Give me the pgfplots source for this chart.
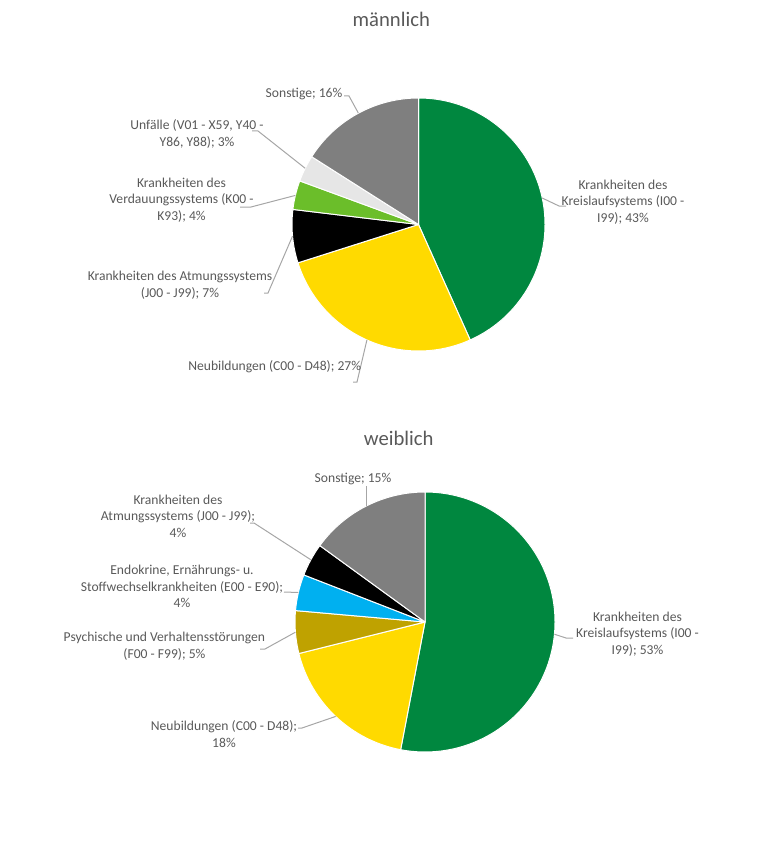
\documentclass[border=0pt]{standalone}
\usepackage{fontspec}
\setmainfont{Carlito}
\usepackage{pgfplots}
\usepackage{pgfplotstable}
\pgfplotsset{compat=1.18}

\definecolor{kgreen}{HTML}{00873F}
\definecolor{kyellow}{HTML}{FFDA00}
\definecolor{kblack}{HTML}{000000}
\definecolor{klgreen}{HTML}{6BBE2A}
\definecolor{klgray}{HTML}{E6E6E6}
\definecolor{kgray}{HTML}{7F7F7F}
\definecolor{kolive}{HTML}{BFA200}
\definecolor{kblue}{HTML}{00B0F0}
\definecolor{ktext}{HTML}{595959}
\definecolor{kleader}{HTML}{A6A6A6}

% Anteile in %, im Uhrzeigersinn ab 12 Uhr
\pgfplotstableread{
wert farbe
43.3 kgreen
26.8 kyellow
6.8 kblack
3.7 klgreen
3.4 klgray
16.0 kgray
}\maennlich

\pgfplotstableread{
wert farbe
53.0 kgreen
18.1 kyellow
5.3 kolive
4.5 kblue
4.1 kblack
15.0 kgray
}\weiblich

% #1 Tabelle, #2/#3 Mittelpunkt, #4 Radius (Achseneinheiten)
\newcommand{\torte}[4]{%
  \pgfplotstablegetrowsof{#1}%
  \pgfmathtruncatemacro{\letzte}{\pgfplotsretval-1}%
  \pgfmathsetmacro{\rr}{#4*0.75}%
  \gdef\kum{0}%
  \foreach \i in {0,...,\letzte}{%
    \pgfplotstablegetelem{\i}{wert}\of{#1}\let\w\pgfplotsretval
    \pgfplotstablegetelem{\i}{farbe}\of{#1}\let\f\pgfplotsretval
    \pgfmathsetmacro{\anf}{90-3.6*\kum}%
    \pgfmathsetmacro{\ende}{90-3.6*(\kum+\w)}%
    \fill[color=\f, draw=white, line width=0.75pt, line join=round]
      (axis cs:#2,#3) -- ++(\anf:\rr pt)
      arc[start angle=\anf, end angle=\ende, radius=\rr pt] -- cycle;
    \pgfmathsetmacro{\neu}{\kum+\w}\global\let\kum\neu
  }%
}

\tikzset{
  lbl/.style={font=\fontsize{10.2}{12.4}\selectfont, text=ktext, align=center, inner sep=0pt},
  ttl/.style={font=\fontsize{15.5}{18}\selectfont, text=ktext, inner sep=0pt},
}

\begin{document}
\begin{tikzpicture}
\begin{axis}[
  x=0.75pt, y=0.75pt,
  xmin=0, xmax=780, ymin=0, ymax=845,
  y dir=reverse,
  hide axis,
  clip=false,
]
\path (axis cs:0,0) rectangle (axis cs:780,845);

% männlich
\pgfplotsextra{\torte{\maennlich}{418.5}{224.5}{126.5}}
\addplot[kleader, line width=0.75pt] coordinates {(344,96) (349,96) (358.3,113)};
\addplot[kleader, line width=0.75pt] coordinates {(252,131) (258,131) (305.2,168.3)};
\addplot[kleader, line width=0.75pt] coordinates {(240,207) (251,207) (295.4,195.4)};
\addplot[kleader, line width=0.75pt] coordinates {(264,293) (268,293) (292.5,236.2)};
\addplot[kleader, line width=0.75pt] coordinates {(353,382) (357,382) (366.9,340)};
\addplot[kleader, line width=0.75pt] coordinates {(566,206) (559,206) (542.2,198)};

\node[ttl] at (axis cs:391.3,19.7) {männlich};
\node[lbl] at (axis cs:304,94) {Sonstige; 16\%};
\node[lbl] at (axis cs:197,134) {Unfälle (V01 - X59, Y40 -\\Y86, Y88); 3\%};
\node[lbl] at (axis cs:181.5,200) {Krankheiten des\\Verdauungssystems (K00 -\\K93); 4\%};
\node[lbl] at (axis cs:180,285) {Krankheiten des Atmungssystems\\(J00 - J99); 7\%};
\node[lbl] at (axis cs:274.7,366.7) {Neubildungen (C00 - D48); 27\%};
\node[lbl] at (axis cs:623,202) {Krankheiten des\\Kreislaufsystems (I00 -\\I99); 43\%};

% weiblich
\pgfplotsextra{\torte{\weiblich}{425}{622}{130}}
\addplot[kleader, line width=0.75pt] coordinates {(366,486) (366,506.2)};
\addplot[kleader, line width=0.75pt] coordinates {(250,523) (254,523) (310.9,559.8)};
\addplot[kleader, line width=0.75pt] coordinates {(284,592) (298.4,592.5)};
\addplot[kleader, line width=0.75pt] coordinates {(260,649) (265,649) (295.4,632.2)};
\addplot[kleader, line width=0.75pt] coordinates {(298,728) (302,728) (335.7,716.4)};
\addplot[kleader, line width=0.75pt] coordinates {(573,638) (566,638) (554.4,634.2)};

\node[ttl] at (axis cs:398.7,438.3) {weiblich};
\node[lbl] at (axis cs:353,479.3) {Sonstige; 15\%};
\node[lbl] at (axis cs:178,516) {Krankheiten des\\Atmungssystems (J00 - J99);\\4\%};
\node[lbl] at (axis cs:182,586.7) {Endokrine, Ernährungs- u.\\Stoffwechselkrankheiten (E00 - E90);\\4\%};
\node[lbl] at (axis cs:164.4,646.3) {Psychische und Verhaltensstörungen\\(F00 - F99); 5\%};
\node[lbl] at (axis cs:224,734) {Neubildungen (C00 - D48);\\18\%};
\node[lbl] at (axis cs:637.5,634) {Krankheiten des\\Kreislaufsystems (I00 -\\I99); 53\%};
\end{axis}
\end{tikzpicture}
\end{document}
